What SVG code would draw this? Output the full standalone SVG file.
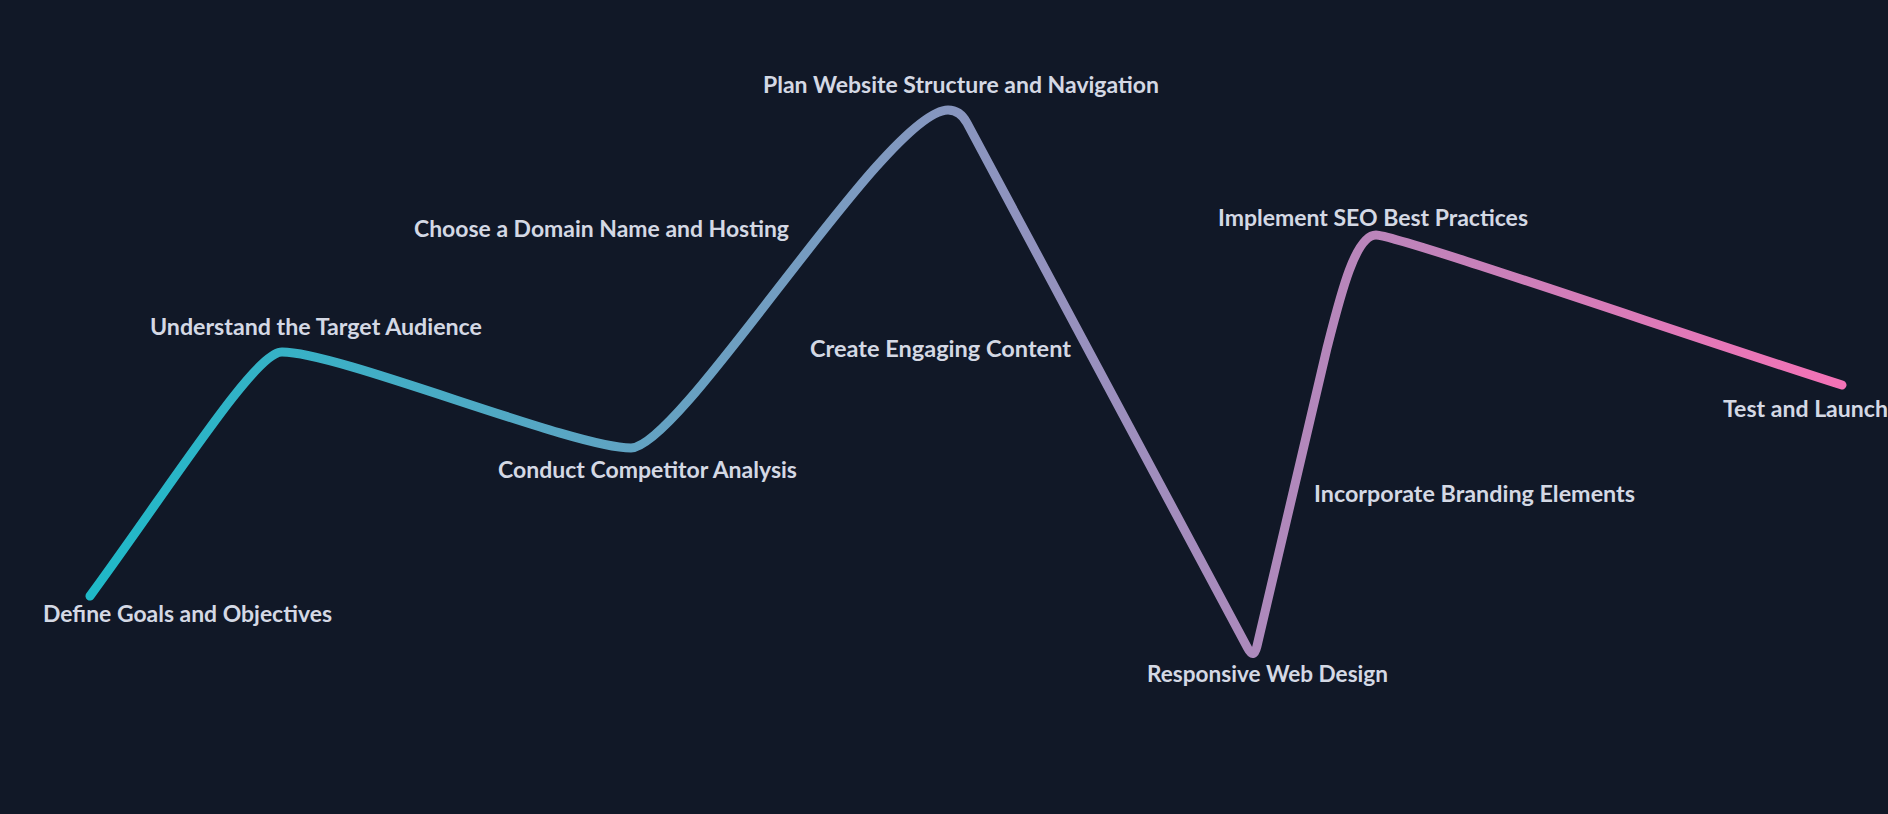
<svg xmlns="http://www.w3.org/2000/svg" width="1888" height="814" viewBox="0 0 1888 814">
  <style>
    .lbl { font-family: "Lato", "Liberation Sans", sans-serif; font-weight: 700; font-size: 22px; fill: #d4d8e4; }
    .line { fill: none; stroke: url(#grad); stroke-width: 9; stroke-linecap: round; stroke-linejoin: round; }
  </style>
  <defs>
    <linearGradient id="grad" gradientUnits="userSpaceOnUse" x1="90" y1="0" x2="1842" y2="0">
      <stop offset="0" stop-color="#1fb9c8"/>
      <stop offset="1" stop-color="#f472b6"/>
    </linearGradient>
  </defs>
  <rect x="0" y="0" width="1888" height="814" fill="#111827"/>
  <g id="connectors">
    <path class="line" d="M90,596 C175,480 255,352 282,352 C339,352 573,448 631,448 C681,448 887,110 948,110 C955,110 962,113.6 967,123 L1247.6,648 Q1253.8,660 1257,646 L1327,348 C1340,297 1355,235 1376,235 C1397,235 1700,340 1842,385"/>
  </g>
  <g id="node-define"><text class="lbl" x="43" y="622" textLength="289" lengthAdjust="spacingAndGlyphs">Define Goals and Objectives</text></g>
  <g id="node-audience"><text class="lbl" x="150" y="335" textLength="332" lengthAdjust="spacingAndGlyphs">Understand the Target Audience</text></g>
  <g id="node-competitor"><text class="lbl" x="498" y="478" textLength="299" lengthAdjust="spacingAndGlyphs">Conduct Competitor Analysis</text></g>
  <g id="node-domain"><text class="lbl" x="414" y="237" textLength="375" lengthAdjust="spacingAndGlyphs">Choose a Domain Name and Hosting</text></g>
  <g id="node-structure"><text class="lbl" x="763" y="93" textLength="396" lengthAdjust="spacingAndGlyphs">Plan Website Structure and Navigation</text></g>
  <g id="node-content"><text class="lbl" x="810" y="357" textLength="261" lengthAdjust="spacingAndGlyphs">Create Engaging Content</text></g>
  <g id="node-responsive"><text class="lbl" x="1147" y="682" textLength="241" lengthAdjust="spacingAndGlyphs">Responsive Web Design</text></g>
  <g id="node-branding"><text class="lbl" x="1314" y="502" textLength="321" lengthAdjust="spacingAndGlyphs">Incorporate Branding Elements</text></g>
  <g id="node-seo"><text class="lbl" x="1218" y="226" textLength="310" lengthAdjust="spacingAndGlyphs">Implement SEO Best Practices</text></g>
  <g id="node-launch"><text class="lbl" x="1723" y="417" textLength="165" lengthAdjust="spacingAndGlyphs">Test and Launch</text></g>
</svg>
